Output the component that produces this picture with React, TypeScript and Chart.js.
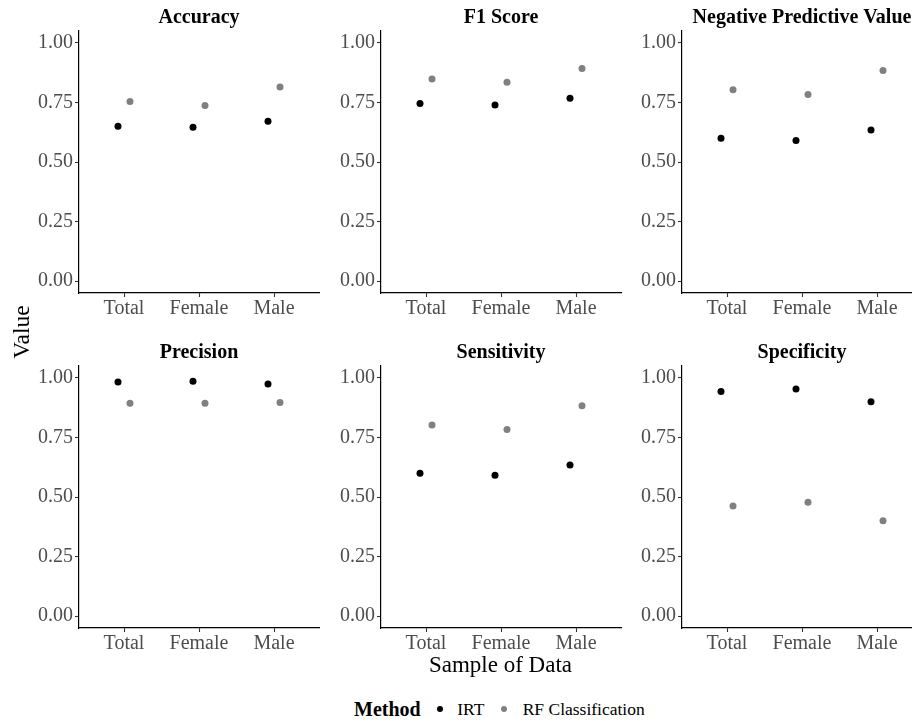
import React, { useEffect, useRef } from "react";
import { Chart, registerables } from "chart.js";

Chart.register(...registerables);

// ---- data ----
const categories = ["Total", "Female", "Male"];
const yTickValues = [0, 0.25, 0.5, 0.75, 1.0];
const methods = ["IRT", "RF Classification"];
const panelTitles = [
  "Accuracy",
  "F1 Score",
  "Negative Predictive Value",
  "Precision",
  "Sensitivity",
  "Specificity",
];
const irtAccuracy = [0.65, 0.646, 0.671];
const rfAccuracy = [0.754, 0.737, 0.815];
const irtF1 = [0.746, 0.739, 0.768];
const rfF1 = [0.848, 0.835, 0.893];
const irtNPV = [0.6, 0.59, 0.634];
const rfNPV = [0.803, 0.783, 0.884];
const irtPrecision = [0.983, 0.986, 0.974];
const rfPrecision = [0.894, 0.894, 0.897];
const irtSensitivity = [0.6, 0.591, 0.634];
const rfSensitivity = [0.802, 0.783, 0.883];
const irtSpecificity = [0.943, 0.953, 0.9];
const rfSpecificity = [0.462, 0.478, 0.4];

const panelIRT = [irtAccuracy, irtF1, irtNPV, irtPrecision, irtSensitivity, irtSpecificity];
const panelRF = [rfAccuracy, rfF1, rfNPV, rfPrecision, rfSensitivity, rfSpecificity];

// ---- style / layout ----
const SERIF = "'Liberation Serif', 'Times New Roman', serif";
Chart.defaults.font.family = SERIF;
const COLORS = ["#000000", "#808080"];
const DODGE = 0.08;
const CANVAS_W = 312;
const CANVAS_H = 325;
const Y_AXIS_W = 62;
const X_AXIS_H = 32;
const PAD_TOP = 31;
const PAD_RIGHT = 10;
const colLeft = [17, 319, 620];
const rowTop = [0, 335];

const titlePlugin = {
  id: "panelTitle",
  afterDraw(chart: any, _args: any, opts: any) {
    const { ctx, chartArea } = chart;
    ctx.save();
    ctx.font = `bold 20px ${SERIF}`;
    ctx.fillStyle = "#000";
    ctx.textAlign = "center";
    ctx.textBaseline = "alphabetic";
    ctx.fillText(opts.text || "", (chartArea.left + chartArea.right) / 2, chartArea.top - 8);
    ctx.restore();
  },
};

const tickFont = { family: SERIF, size: 20, style: "normal" as const, weight: "normal" as const };

function Panel({ index }: { index: number }) {
  const ref = useRef<HTMLCanvasElement | null>(null);
  useEffect(() => {
    if (!ref.current) return;
    const irt = panelIRT[index];
    const rf = panelRF[index];
    const chart = new Chart(ref.current, {
      type: "scatter",
      data: {
        datasets: [
          {
            label: methods[0],
            data: irt.map((v, i) => ({ x: i - DODGE, y: v })),
            backgroundColor: COLORS[0],
            pointBorderWidth: 0,
            pointRadius: 3.5,
          },
          {
            label: methods[1],
            data: rf.map((v, i) => ({ x: i + DODGE, y: v })),
            backgroundColor: COLORS[1],
            pointBorderWidth: 0,
            pointRadius: 3.5,
          },
        ],
      },
      options: {
        animation: false,
        responsive: false,
        maintainAspectRatio: false,
        events: [],
        font: { family: SERIF },
        layout: { padding: { top: PAD_TOP, right: PAD_RIGHT, left: 0, bottom: 0 } },
        plugins: {
          legend: { display: false },
          tooltip: { enabled: false },
          title: { display: false },
          panelTitle: { text: panelTitles[index] },
        } as any,
        scales: {
          x: {
            type: "linear",
            min: -0.6,
            max: 2.6,
            afterBuildTicks: (s: any) => {
              s.ticks = categories.map((_, i) => ({ value: i }));
            },
            afterFit: (s: any) => {
              s.height = X_AXIS_H;
            },
            ticks: {
              callback: (v: any) => categories[Math.round(Number(v))],
              font: tickFont,
              color: "#4D4D4D",
              padding: 0,
              maxRotation: 0,
              autoSkip: false,
            },
            grid: {
              display: true,
              drawOnChartArea: false,
              drawTicks: true,
              tickLength: 4,
              tickColor: "#333333",
              tickWidth: 1.1,
            },
            border: { display: true, color: "#000", width: 1.2 },
          },
          y: {
            type: "linear",
            min: -0.05,
            max: 1.05,
            afterBuildTicks: (s: any) => {
              s.ticks = yTickValues.map((v) => ({ value: v }));
            },
            afterFit: (s: any) => {
              s.width = Y_AXIS_W;
            },
            ticks: {
              callback: (v: any) => Number(v).toFixed(2),
              font: tickFont,
              color: "#4D4D4D",
              padding: 2,
              autoSkip: false,
            },
            grid: {
              display: true,
              drawOnChartArea: false,
              drawTicks: true,
              tickLength: 4,
              tickColor: "#333333",
              tickWidth: 1.1,
            },
            border: { display: true, color: "#000", width: 1.2 },
          },
        },
      },
      plugins: [titlePlugin],
    } as any);
    return () => chart.destroy();
  }, [index]);

  const col = index % 3;
  const row = Math.floor(index / 3);
  return (
    <canvas
      ref={ref}
      width={CANVAS_W}
      height={CANVAS_H}
      style={{
        position: "absolute",
        left: colLeft[col],
        top: rowTop[row],
        width: CANVAS_W,
        height: CANVAS_H,
      }}
    />
  );
}

export default function App() {
  return (
    <div
      style={{
        position: "absolute",
        left: 0,
        top: 0,
        width: 912,
        height: 722,
        overflow: "hidden",
        background: "#fff",
        fontFamily: SERIF,
      }}
    >
      {panelTitles.map((_, i) => (
        <Panel key={i} index={i} />
      ))}
      {/* y axis title */}
      <div
        style={{
          position: "absolute",
          left: 20.6 - 100,
          top: 332 - 15,
          width: 200,
          height: 30,
          lineHeight: "30px",
          fontSize: 23.5,
          textAlign: "center",
          color: "#000",
          transform: "rotate(-90deg)",
          whiteSpace: "nowrap",
        }}
      >
        Value
      </div>
      {/* x axis title */}
      <div
        style={{
          position: "absolute",
          left: 300.5,
          top: 652.7,
          width: 400,
          lineHeight: "23px",
          fontSize: 23,
          textAlign: "center",
          color: "#000",
          whiteSpace: "nowrap",
        }}
      >
        Sample of Data
      </div>
      {/* legend */}
      <div
        style={{
          position: "absolute",
          left: 354,
          top: 699.3,
          lineHeight: "20px",
          fontSize: 20,
          fontWeight: "bold",
          color: "#000",
          whiteSpace: "nowrap",
        }}
      >
        Method
      </div>
      <div
        style={{
          position: "absolute",
          left: 439.5 - 3,
          top: 709.3 - 3,
          width: 6,
          height: 6,
          borderRadius: "50%",
          background: COLORS[0],
        }}
      />
      <div
        style={{
          position: "absolute",
          left: 457.3,
          top: 701.3,
          lineHeight: "17.5px",
          fontSize: 17.5,
          color: "#000",
          whiteSpace: "nowrap",
        }}
      >
        {methods[0]}
      </div>
      <div
        style={{
          position: "absolute",
          left: 503.5 - 3,
          top: 709.3 - 3,
          width: 6,
          height: 6,
          borderRadius: "50%",
          background: COLORS[1],
        }}
      />
      <div
        style={{
          position: "absolute",
          left: 522.7,
          top: 701.3,
          lineHeight: "17.5px",
          fontSize: 17.5,
          color: "#000",
          whiteSpace: "nowrap",
        }}
      >
        {methods[1]}
      </div>
    </div>
  );
}
